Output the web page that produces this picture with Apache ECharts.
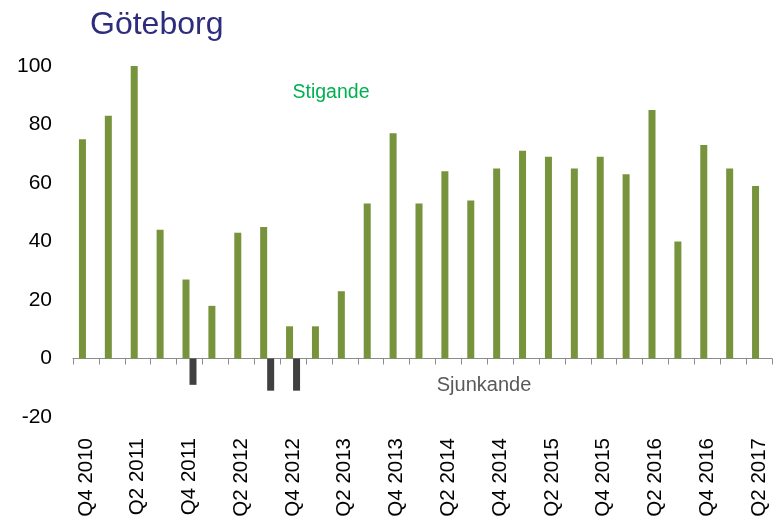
<!DOCTYPE html>
<html>
<head>
<meta charset="utf-8">
<script src="https://cdn.jsdelivr.net/npm/echarts@6/dist/echarts.min.js"></script>
<style>
html,body{margin:0;padding:0;background:#fff;}
#chart{width:773px;height:523px;}
</style>
</head>
<body>
<div id="chart"></div>
<script>
const categories = ["Q4 2010","Q1 2011","Q2 2011","Q3 2011","Q4 2011","Q1 2012","Q2 2012","Q3 2012","Q4 2012","Q1 2013","Q2 2013","Q3 2013","Q4 2013","Q1 2014","Q2 2014","Q3 2014","Q4 2014","Q1 2015","Q2 2015","Q3 2015","Q4 2015","Q1 2016","Q2 2016","Q3 2016","Q4 2016","Q1 2017","Q2 2017"];
const stigande = [75,83,100,44,27,18,43,45,11,11,23,53,77,53,64,54,65,71,69,65,69,63,85,40,73,65,59];
const sjunkande = [null,null,null,null,-9,null,null,-11,-11,null,null,null,null,null,null,null,null,null,null,null,null,null,null,null,null,null,null];
const yMin = -20, yMax = 100, yStep = 20;

const FONT = '"Liberation Sans", Arial, sans-serif';
const chart = echarts.init(document.getElementById('chart'), null, {renderer:'canvas'});
chart.setOption({
  animation: false,
  backgroundColor: '#ffffff',
  title: {
    text: 'Göteborg',
    left: 85, top: 4,
    padding: 5,
    textStyle: {fontFamily: FONT, fontSize: 32, fontWeight: 'normal', color: '#2E2D7D'}
  },
  grid: {left: 73, right: 1, top: 66, bottom: 106, containLabel: false},
  xAxis: [{
    type: 'category',
    data: categories,
    axisLine: {onZero: true, lineStyle: {color: '#8C8C8C', width: 1}},
    axisTick: {show: true, interval: 0, length: 6, lineStyle: {color: '#8C8C8C'}},
    axisLabel: {show: false},
    splitLine: {show: false}
  },{
    type: 'category',
    data: categories,
    position: 'bottom',
    axisLine: {show: false, onZero: false},
    axisTick: {show: false},
    axisLabel: {show: true, interval: 1, rotate: 90, margin: 21, fontFamily: FONT, fontSize: 20.5, color: '#000'},
    splitLine: {show: false}
  }],
  yAxis: {
    type: 'value',
    min: yMin, max: yMax, interval: yStep,
    axisLine: {show: false},
    axisTick: {show: false},
    splitLine: {show: false},
    axisLabel: {margin: 21, fontFamily: FONT, fontSize: 21, color: '#000'}
  },
  series: [{
    name: 'Stigande',
    type: 'bar',
    xAxisIndex: 0,
    data: stigande,
    barWidth: 7,
    barGap: '0%',
    itemStyle: {color: '#77933C'}
  },{
    name: 'Sjunkande',
    type: 'bar',
    xAxisIndex: 0,
    data: sjunkande,
    barWidth: 7,
    barGap: '0%',
    itemStyle: {color: '#404040'}
  }],
  graphic: [{
    type: 'text', x: 331, y: 93,
    style: {text: 'Stigande', fill: '#00B050', font: '19.5px ' + FONT, textAlign: 'center', textVerticalAlign: 'middle'}
  },{
    type: 'text', x: 484, y: 385,
    style: {text: 'Sjunkande', fill: '#595959', font: '20px ' + FONT, textAlign: 'center', textVerticalAlign: 'middle'}
  }]
});
</script>
</body>
</html>
